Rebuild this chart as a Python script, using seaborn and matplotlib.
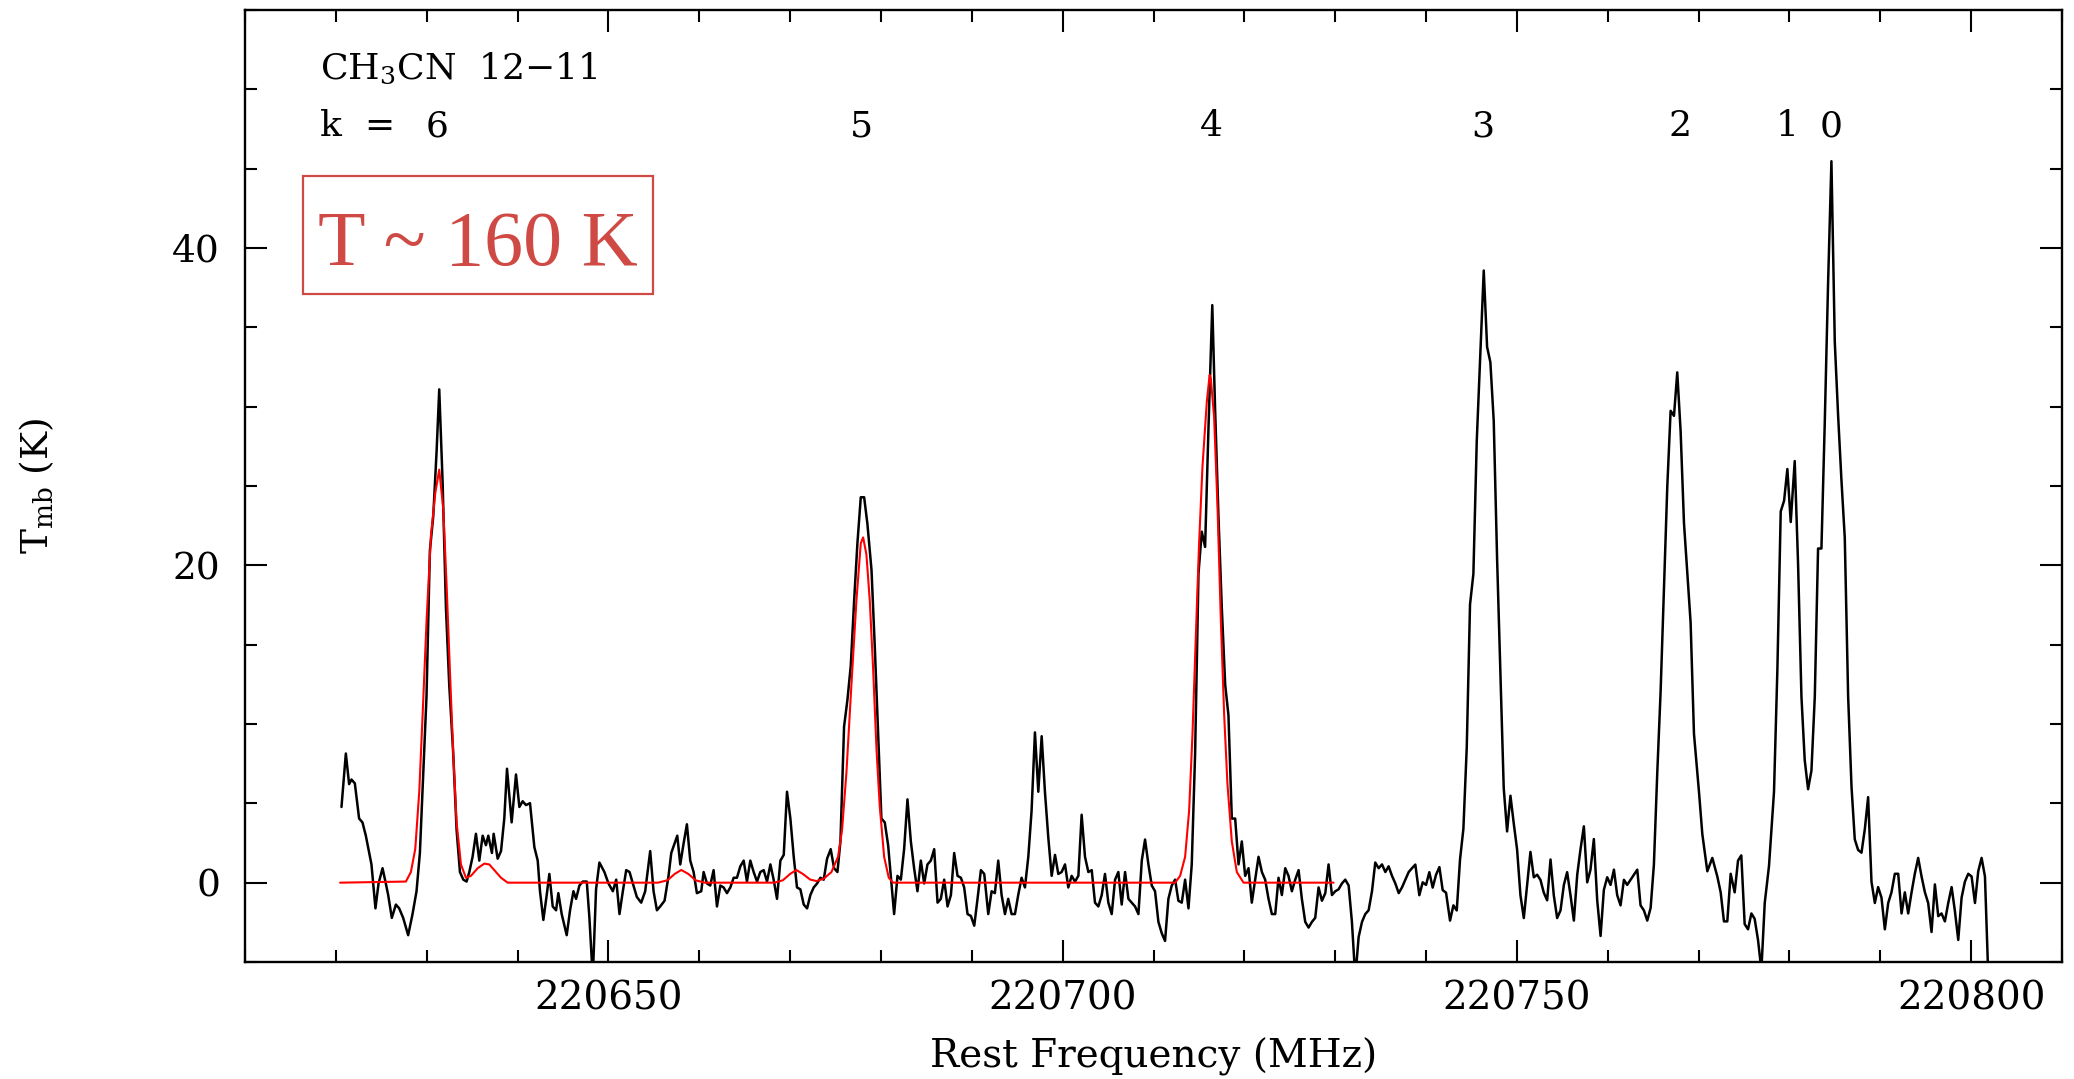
import matplotlib
matplotlib.use("Agg")
import matplotlib.pyplot as plt
import seaborn as sns
import pandas as pd
from matplotlib.ticker import MultipleLocator, FixedLocator
from matplotlib.patches import Rectangle

# ---------------- data ----------------
# observed spectrum, split into consecutive frequency chunks (MHz, K)
freq_a = [220620.62, 220621.10, 220621.46, 220621.72, 220622.09, 220622.56, 220622.93, 220623.30, 220623.67, 220623.92,
          220624.36, 220624.70, 220625.14, 220625.50, 220625.76, 220626.16, 220626.61, 220626.97, 220627.41, 220627.96,
          220628.44, 220628.88, 220629.25, 220629.62, 220629.98, 220630.35, 220630.72, 220631.09, 220631.38, 220631.75,
          220632.12, 220632.48, 220632.92, 220633.29, 220633.66, 220634.03, 220634.39, 220634.69, 220635.05, 220635.42,
          220635.79, 220636.16, 220636.52, 220636.78, 220637.18, 220637.37, 220637.81, 220638.18, 220638.54, 220638.84,
          220639.35, 220639.83, 220640.20, 220640.56, 220640.93, 220641.37, 220641.85, 220642.22, 220642.47, 220642.84,
          220643.21, 220643.50, 220643.87, 220644.24, 220644.49, 220644.86, 220645.41, 220645.78, 220646.15, 220646.44,
          220646.81, 220647.18, 220647.62, 220647.91, 220648.28, 220648.64, 220649.01, 220649.56]
tmb_a = [4.77, 8.14, 6.21, 6.50, 6.26, 4.04, 3.80, 2.96, 1.87, 1.15,
         -1.62, -0.05, 0.91, -0.05, -0.78, -2.22, -1.38, -1.62, -2.22, -3.31,
         -1.98, -0.54, 1.87, 6.94, 11.76, 20.92, 23.09, 27.19, 31.09, 25.26,
         17.30, 12.48, 8.14, 3.32, 0.67, 0.19, 0.07, 0.67, 1.63, 3.08,
         1.39, 2.96, 2.36, 2.96, 1.87, 3.08, 1.51, 1.99, 4.04, 7.18,
         3.80, 6.82, 4.77, 5.13, 4.89, 5.01, 2.24, 1.39, -0.54, -2.35,
         -0.78, 0.55, -1.50, -1.74, -0.66, -1.98, -3.31, -1.74, -0.54, -1.02,
         -0.18, 0.07, 0.07, -2.22, -6.0, -0.42, 1.27, 0.67]

freq_b = [220650.01, 220650.49, 220650.86, 220651.22, 220651.59, 220651.96, 220652.33, 220652.69, 220653.13, 220653.61,
          220654.05, 220654.60, 220654.97, 220655.34, 220655.70, 220656.18, 220656.62, 220656.92, 220657.36, 220657.58,
          220657.91, 220658.28, 220658.64, 220659.01, 220659.38, 220659.74, 220660.22, 220660.48, 220660.85, 220661.21,
          220661.58, 220661.95, 220662.32, 220662.68, 220663.05, 220663.42, 220663.79, 220664.15, 220664.52, 220664.89,
          220665.25, 220665.62, 220665.99, 220666.36, 220666.72, 220667.09, 220667.46, 220667.83, 220668.19, 220668.56,
          220668.93, 220669.30, 220669.66, 220670.03, 220670.40, 220670.76, 220671.13, 220671.50, 220671.87, 220672.23,
          220672.60, 220672.97, 220673.34, 220673.70, 220674.07, 220674.47, 220674.84, 220675.21, 220675.54, 220675.94,
          220676.31, 220676.68, 220677.05, 220677.41, 220677.78, 220678.15, 220678.51, 220678.96, 220679.32, 220679.69]
tmb_b = [-0.05, -0.54, 0.19, -1.98, -0.54, 0.79, 0.67, -0.05, -0.90, -1.26,
         -0.54, 1.99, -0.54, -1.74, -1.50, -1.14, 0.43, 1.87, 2.60, 2.96,
         1.15, 2.48, 3.68, 1.39, 0.67, -0.66, -0.54, 0.67, -0.05, -0.18,
         0.79, -1.50, -0.18, -0.30, -0.66, -0.30, 0.31, 0.31, 1.03, 1.39,
         0.07, 1.39, 0.67, 0.07, 0.67, 0.79, 0.07, 1.15, 0.19, -1.02,
         1.39, 1.75, 5.73, 4.04, 1.63, -0.30, -0.42, -1.38, -1.62, -0.78,
         -0.30, -0.05, 0.31, 0.19, 1.51, 2.11, 0.91, 0.67, 2.60, 9.83,
         11.52, 13.69, 17.79, 21.40, 24.29, 24.29, 22.61, 19.71, 14.89, 9.35]

freq_c = [220680.05, 220680.42, 220680.79, 220681.16, 220681.45, 220681.82, 220682.19, 220682.55, 220682.92, 220683.29,
          220683.65, 220684.02, 220684.39, 220684.76, 220685.12, 220685.49, 220685.86, 220686.23, 220686.59, 220686.96,
          220687.33, 220687.70, 220688.06, 220688.43, 220688.80, 220689.16, 220689.53, 220689.90, 220690.27, 220690.63,
          220691.00, 220691.37, 220691.81, 220692.18, 220692.54, 220692.91, 220693.28, 220693.65, 220694.01, 220694.38,
          220694.75, 220695.11, 220695.48, 220695.85, 220696.22, 220696.58, 220696.95, 220697.32, 220697.69, 220698.05,
          220698.42, 220698.79, 220699.16, 220699.52, 220699.89, 220700.26, 220700.62, 220700.99, 220701.36, 220701.73,
          220702.09, 220702.46, 220702.83, 220703.20, 220703.56, 220703.93, 220704.30, 220704.66, 220705.03, 220705.40,
          220705.77, 220706.13, 220706.50, 220706.87, 220707.24, 220707.60, 220707.97, 220708.34, 220708.71, 220709.07]
tmb_c = [4.04, 3.80, 2.36, -0.05, -1.98, 0.43, 0.19, 2.11, 5.25, 2.60,
         0.91, -0.54, 1.39, -0.05, 1.15, 1.39, 2.11, -1.26, -1.02, 0.19,
         -1.50, -0.78, 1.87, 0.43, 0.31, -0.30, -1.98, -2.10, -2.71, -1.02,
         0.79, 0.55, -1.98, -0.54, -0.66, 1.39, -0.78, -1.98, -1.02, -1.98,
         -1.98, -0.78, 0.31, -0.30, 1.63, 4.53, 9.47, 5.73, 9.23, 5.73,
         2.84, 0.43, 1.75, 0.55, 0.67, 1.15, -0.30, 0.43, 0.07, 0.43,
         4.28, 1.63, 0.67, 0.79, -1.26, -1.50, -0.78, 0.55, -1.26, -1.98,
         0.19, 0.67, -1.38, 0.67, -1.02, -1.26, -1.50, -1.98, 1.39, 2.72]

freq_d = [220709.44, 220709.81, 220710.17, 220710.54, 220710.91, 220711.27, 220711.64, 220712.01, 220712.38, 220712.74,
          220713.11, 220713.48, 220713.85, 220714.21, 220714.58, 220714.95, 220715.31, 220715.68, 220716.05, 220716.47,
          220716.78, 220717.15, 220717.52, 220717.89, 220718.25, 220718.62, 220718.99, 220719.36, 220719.72, 220720.09,
          220720.46, 220720.82, 220721.19, 220721.56, 220721.93, 220722.29, 220722.66, 220723.03, 220723.40, 220723.76,
          220724.13, 220724.50, 220724.86, 220725.23, 220725.60, 220725.97, 220726.33, 220726.70, 220727.07, 220727.44,
          220727.80, 220728.17, 220728.54, 220728.91, 220729.27, 220729.64, 220730.01, 220730.37, 220730.74, 220731.11,
          220731.48, 220731.84, 220732.21, 220732.58, 220732.95, 220733.31, 220733.68, 220734.05, 220734.41, 220734.78,
          220735.15, 220735.52, 220735.88, 220736.25, 220736.62, 220736.99, 220737.35, 220737.72, 220738.09, 220738.45]
tmb_d = [1.15, -0.18, -0.54, -2.47, -3.19, -3.67, -1.02, -0.18, 0.19, -1.14,
         -1.26, 0.19, -1.62, 1.15, 8.14, 19.47, 22.12, 21.16, 28.63, 36.4,
         29.84, 23.09, 17.30, 12.48, 10.55, 4.04, 4.04, 1.15, 2.60, 0.43,
         0.91, -1.26, 0.19, 1.63, 0.67, 0.19, -1.02, -1.98, -1.98, 0.31,
         -0.78, 0.91, 0.43, -0.54, 0.19, 0.79, -1.02, -2.47, -2.83, -2.47,
         -2.22, -0.30, -1.14, -0.66, 1.15, -0.78, -0.54, -0.42, -0.05, 0.19,
         -0.18, -2.47, -6.0, -3.43, -2.47, -1.98, -1.74, -0.54, 1.27, 0.91,
         1.15, 0.67, 1.03, 0.43, -0.05, -0.66, -0.30, 0.19, 0.67, 0.91]

freq_e = [220738.82, 220739.26, 220739.63, 220740.00, 220740.36, 220740.73, 220741.10, 220741.47, 220741.83, 220742.20,
          220742.64, 220743.01, 220743.38, 220743.74, 220744.11, 220744.48, 220744.84, 220745.21, 220745.58, 220745.95,
          220746.35, 220746.72, 220747.08, 220747.45, 220747.82, 220748.19, 220748.55, 220748.92, 220749.29, 220749.66,
          220750.02, 220750.39, 220750.76, 220751.13, 220751.49, 220751.86, 220752.23, 220752.59, 220752.96, 220753.33,
          220753.70, 220754.06, 220754.43, 220754.80, 220755.17, 220755.53, 220755.90, 220756.27, 220756.64, 220757.00,
          220757.37, 220757.74, 220758.10, 220758.47, 220758.84, 220759.21, 220759.57, 220759.94, 220760.31, 220760.68,
          220761.04, 220761.41, 220761.78, 220762.14, 220762.51, 220762.88, 220763.25, 220763.61, 220763.98, 220764.35,
          220764.72, 220765.08, 220765.45, 220765.82, 220766.19, 220766.55, 220766.92, 220767.29, 220767.65, 220768.02,
          220768.39, 220768.76]
tmb_e = [1.14, -0.79, 0.02, -0.14, 0.66, -0.31, 0.50, 0.98, -0.47, -0.63,
         -2.39, -1.43, -1.75, 1.46, 3.39, 8.53, 17.53, 19.46, 27.82, 32.96,
         38.58, 33.76, 32.80, 29.10, 20.42, 13.03, 5.96, 3.23, 5.48, 3.70,
         2.10, -0.79, -2.23, -0.14, 1.94, 0.34, 0.50, 0.18, -0.63, -1.11,
         1.46, -0.79, -2.23, -1.75, -0.14, 0.66, -0.79, -2.39, 0.50, 2.10,
         3.55, 0.02, 0.82, 2.75, -1.11, -3.36, -0.46, 0.34, -0.14, 0.82,
         -0.79, -1.43, 0.18, -0.14, 0.18, 0.50, 0.82, -1.43, -1.75, -2.39,
         -1.59, 1.14, 6.92, 12.07, 18.50, 24.92, 29.74, 29.42, 32.16, 28.46,
         22.67, 19.46]

freq_f = [220769.12, 220769.49, 220770.04, 220770.41, 220770.96, 220771.51, 220772.06, 220772.43, 220772.79, 220773.16,
          220773.53, 220773.97, 220774.34, 220774.70, 220775.07, 220775.44, 220775.81, 220776.17, 220776.54, 220776.91,
          220777.28, 220777.75, 220778.30, 220778.67, 220779.04, 220779.41, 220779.77, 220780.14, 220780.58, 220780.95,
          220781.32, 220781.68, 220782.05, 220782.42, 220782.79, 220783.15, 220783.52, 220783.89, 220784.25, 220784.62,
          220784.99, 220785.36, 220785.72, 220786.09, 220786.46, 220786.83, 220787.19, 220787.56, 220787.93, 220788.30,
          220788.66, 220789.03, 220789.40, 220789.76, 220790.13, 220790.50, 220790.87, 220791.23, 220791.60, 220791.97,
          220792.34, 220792.70, 220793.07, 220793.44, 220793.80, 220794.17, 220794.54, 220794.91, 220795.27, 220795.64,
          220796.01, 220796.38, 220796.74, 220797.11, 220797.48, 220797.85, 220798.21, 220798.58, 220798.95, 220799.31,
          220799.68, 220800.05, 220800.42, 220800.78, 220801.15, 220801.52, 220801.89]
tmb_f = [16.40, 9.39, 5.73, 3.06, 0.72, 1.56, 0.39, -0.61, -2.44, -2.44,
         0.56, -0.61, 1.39, 1.72, -2.61, -2.94, -1.94, -2.28, -3.61, -5.5,
         -1.28, 1.06, 5.73, 13.40, 23.40, 24.07, 26.07, 22.73, 26.57, 20.06,
         11.73, 7.73, 5.89, 7.06, 11.73, 21.06, 21.06, 29.07, 37.74, 45.47,
         34.07, 29.40, 25.40, 21.73, 11.73, 6.06, 2.73, 2.06, 1.89, 3.39,
         5.39, 0.06, -1.28, -0.28, -0.94, -2.94, -1.28, -0.61, 0.56, 0.56,
         -1.94, -0.61, -1.94, -0.61, 0.56, 1.56, 0.39, -0.61, -1.28, -3.11,
         -0.11, -2.11, -1.94, -2.44, -1.28, -0.28, -1.78, -3.61, -0.94, 0.06,
         0.56, 0.39, -1.28, 0.72, 1.56, 0.39, -6.0]

# LTE model fit (red curve), K = 6, 5, 4 components
fit_freq = [220620.47, 220627.71, 220628.26, 220628.74, 220629.18, 220629.55, 220629.99, 220630.47, 220630.94, 220631.38,
            220631.82, 220632.19, 220632.55, 220632.92, 220633.29, 220633.77, 220634.32, 220634.87, 220635.61, 220636.34,
            220636.89, 220637.44, 220638.18, 220638.91, 220655.45, 220656.50, 220657.30, 220658.02, 220658.80, 220659.60,
            220660.59, 220668.30, 220669.20, 220670.00, 220670.69, 220671.40, 220672.20, 220672.90, 220673.70, 220674.55,
            220675.28, 220675.72, 220676.20, 220676.75, 220677.30, 220677.78, 220678.04, 220678.40, 220678.77, 220679.14,
            220679.51, 220679.87, 220680.35, 220680.86, 220681.34, 220712.38, 220712.93, 220713.48, 220713.92, 220714.29,
            220714.65, 220715.02, 220715.39, 220715.87, 220716.18, 220716.31, 220716.67, 220717.04, 220717.41, 220717.78,
            220718.14, 220718.62, 220719.17, 220719.91, 220729.82]
fit_tmb = [0.0, 0.07, 0.67, 2.12, 5.73, 10.55, 16.58, 21.88, 24.54, 26.03,
           23.57, 18.75, 13.45, 8.14, 3.80, 1.15, 0.31, 0.43, 0.91, 1.20,
           1.15, 0.79, 0.31, 0.0, 0.0, 0.15, 0.55, 0.80, 0.55, 0.15,
           0.0, 0.0, 0.15, 0.55, 0.80, 0.55, 0.20, 0.10, 0.25, 0.67,
           1.63, 3.32, 6.94, 12.48, 17.78, 21.40, 21.76, 20.68, 17.78, 13.45,
           8.40, 4.80, 1.63, 0.31, 0.0, 0.0, 0.43, 1.63, 4.53, 9.35,
           15.37, 21.40, 26.22, 30.32, 32.0, 31.77, 29.36, 23.81, 16.58, 10.55,
           6.21, 2.60, 0.67, 0.0, 0.0]

# K-ladder labels
k_labels = ["6", "5", "4", "3", "2", "1", "0"]
k_freqs = [220631.1, 220677.9, 220716.4, 220746.3, 220768.0, 220779.7, 220784.6]

x_ticks = [220650, 220700, 220750, 220800]
y_ticks = [0, 20, 40]

# ---------------- plotting ----------------
sns.set_theme(style="ticks")
plt.rcParams["font.family"] = ["DejaVu Serif"]
plt.rcParams["mathtext.fontset"] = "dejavuserif"
plt.rcParams["text.color"] = "black"
plt.rcParams["axes.labelcolor"] = "black"
plt.rcParams["xtick.color"] = "black"
plt.rcParams["ytick.color"] = "black"

obs = pd.DataFrame({
    "freq": freq_a + freq_b + freq_c + freq_d + freq_e + freq_f,
    "tmb": tmb_a + tmb_b + tmb_c + tmb_d + tmb_e + tmb_f,
})
fit = pd.DataFrame({"freq": fit_freq, "tmb": fit_tmb})

W, H = 2074, 1079
fig = plt.figure(figsize=(W / 100, H / 100), dpi=100)
L, R, T, B = 245, 2062, 10, 962
ax = fig.add_axes([L / W, 1 - B / H, (R - L) / W, (B - T) / H])

sns.lineplot(data=obs, x="freq", y="tmb", sort=False, estimator=None,
             color="black", linewidth=1.8, ax=ax)
sns.lineplot(data=fit, x="freq", y="tmb", sort=False, estimator=None,
             color="#ff0000", linewidth=1.5, ax=ax)

ax.set_xlim(220610, 220810)
ax.set_ylim(-5, 55)
ax.xaxis.set_major_locator(FixedLocator(x_ticks))
ax.xaxis.set_minor_locator(MultipleLocator(10))
ax.yaxis.set_major_locator(FixedLocator(y_ticks))
ax.yaxis.set_minor_locator(MultipleLocator(5))
ax.set_xticklabels([str(v) for v in x_ticks])
ax.set_yticklabels([str(v) for v in y_ticks])

ax.tick_params(which="both", direction="in", top=True, right=True,
               width=1.5, colors="black")
ax.tick_params(which="major", length=16)
ax.tick_params(which="minor", length=8.5)
ax.tick_params(axis="x", which="major", labelsize=28, pad=13)
ax.tick_params(axis="y", which="major", labelsize=27, pad=18)
for s in ax.spines.values():
    s.set_linewidth(1.7)
    s.set_color("black")
ax.grid(False)

ax.set_xlabel("Rest Frequency (MHz)", fontsize=28, color="black")
ax.set_ylabel(r"T$_{\rm mb}$ (K)", fontsize=27, color="black")
ax.xaxis.set_label_coords(0.5, -0.079)
ax.yaxis.set_label_coords(-0.104, 0.5)

# annotations
ax.text(220618.3, 50.7, "CH$_3$CN  12\u221211", fontsize=26, ha="left", va="baseline", color="black")
ax.text(220618.3, 47.05, "k  =", fontsize=26, ha="left", va="baseline", color="black")
for lab, fx in zip(k_labels, k_freqs):
    ax.text(fx, 47.05, lab, fontsize=26, ha="center", va="baseline", color="black")

red = "#cf4a44"
ax.add_patch(Rectangle((0.0319, 0.7017), 0.1926, 0.1239, transform=ax.transAxes,
                       fill=False, edgecolor=red, linewidth=1.6))
ax.text(0.1282, 0.732, "T ~ 160 K", transform=ax.transAxes, fontsize=56,
        color=red, ha="center", va="baseline", family=["Liberation Serif"])

fig.savefig("out.png", dpi=100)
